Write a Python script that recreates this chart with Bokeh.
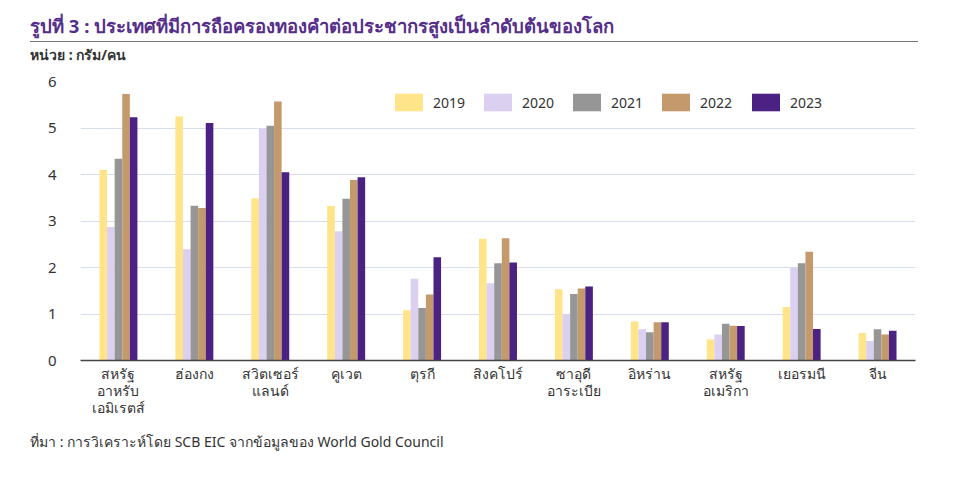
from bokeh.plotting import figure
from bokeh.layouts import column
from bokeh.models import (FactorRange, Legend, LegendItem, ColumnDataSource, FixedTicker, Div)
from bokeh.transform import dodge
from bokeh.embed import file_html
from bokeh.resources import INLINE

countries = ["สหรัฐ\nอาหรับ\nเอมิเรตส์", "ฮ่องกง", "สวิตเซอร์\nแลนด์", "คูเวต", "ตุรกี",
             "สิงคโปร์", "ซาอุดี\nอาระเบีย", "อิหร่าน", "สหรัฐ\nอเมริกา", "เยอรมนี", "จีน"]
years = ["2019", "2020", "2021", "2022", "2023"]
v2019 = [4.10, 5.25, 3.49, 3.32, 1.08, 2.62, 1.53, 0.84, 0.45, 1.15, 0.59]
v2020 = [2.87, 2.39, 4.99, 2.78, 1.76, 1.66, 1.00, 0.67, 0.56, 2.00, 0.42]
v2021 = [4.34, 3.33, 5.05, 3.48, 1.13, 2.09, 1.43, 0.61, 0.79, 2.09, 0.67]
v2022 = [5.73, 3.28, 5.57, 3.88, 1.42, 2.63, 1.55, 0.82, 0.75, 2.34, 0.56]
v2023 = [5.23, 5.11, 4.05, 3.94, 2.22, 2.11, 1.59, 0.82, 0.74, 0.68, 0.64]
y_ticks = [0, 1, 2, 3, 4, 5, 6]
colors = ["#FFE48A", "#DCD0F0", "#969696", "#C49A6C", "#4B2183"]

title_text = "รูปที่ 3 : ประเทศที่มีการถือครองทองคำต่อประชากรสูงเป็นลำดับต้นของโลก"
unit_text = "หน่วย : กรัม/คน"
source_text = "ที่มา : การวิเคราะห์โดย SCB EIC จากข้อมูลของ World Gold Council"

FONT = "Noto Sans"
W = 962

# ---- header (page y 0..71)
HH = 71
header_html = (
    f'<div style="position:relative;width:{W}px;height:{HH}px;">'
    f'<div style="position:absolute;left:30px;top:13px;white-space:nowrap;'
    f'font-family:\'{FONT}\';font-size:18.5px;font-weight:bold;color:#552D8A;line-height:26px;">'
    f'{title_text}</div>'
    f'<div style="position:absolute;left:30px;top:41px;width:888px;height:0;'
    f'border-top:1.5px solid #777777;"></div>'
    f'<div style="position:absolute;left:30px;top:45px;white-space:nowrap;'
    f'font-family:\'{FONT}\';font-size:14px;font-weight:bold;color:#333333;line-height:20px;">'
    f'{unit_text}</div></div>'
)
header = Div(text=header_html, width=W, height=HH, margin=0)

# ---- main chart (page y 71..440)
TOP, FRAME_H, BOTTOM = 10, 279, 80
MH = TOP + FRAME_H + BOTTOM
src = ColumnDataSource(dict(c=countries, v2019=v2019, v2020=v2020, v2021=v2021,
                            v2022=v2022, v2023=v2023))
fig = figure(width=W, height=MH, x_range=FactorRange(*countries, range_padding=0),
             y_range=(0, 6), output_backend="svg", toolbar_location=None,
             min_border_left=80, min_border_right=W - 915, min_border_top=TOP,
             min_border_bottom=BOTTOM)
fig.outline_line_color = None

cols = ["v2019", "v2020", "v2021", "v2022", "v2023"]
offsets = [-0.2, -0.1, 0.0, 0.1, 0.2]
renderers = []
for col, off, colr in zip(cols, offsets, colors):
    r = fig.vbar(x=dodge("c", off, range=fig.x_range), top=col, bottom=0, width=0.1,
                 source=src, fill_color=colr, line_color=None)
    renderers.append(r)

swatch_x = [396, 485, 574, 663, 753]
for yr, r, sx in zip(years, renderers, swatch_x):
    lg = Legend(items=[LegendItem(label=yr, renderers=[r])],
                orientation="horizontal", location=(sx - 85, 247),
                glyph_width=35, glyph_height=22, label_standoff=7, spacing=0,
                padding=0, margin=0, border_line_color=None, background_fill_alpha=0,
                label_text_font=FONT, label_text_font_size="14px",
                label_text_color="#333333", label_height=22)
    fig.add_layout(lg, "center")

fig.yaxis.ticker = FixedTicker(ticks=y_ticks)
fig.yaxis.axis_line_color = None
fig.yaxis.major_tick_line_color = None
fig.yaxis.minor_tick_line_color = None
fig.yaxis.major_label_text_font = FONT
fig.yaxis.major_label_text_font_size = "15px"
fig.yaxis.major_label_text_color = "#333333"
fig.yaxis.major_label_standoff = 18

fig.xaxis.axis_line_color = "#444444"
fig.xaxis.axis_line_width = 1.5
fig.xaxis.major_tick_line_color = None
fig.xaxis.minor_tick_line_color = None
fig.xaxis.major_label_text_font = FONT
fig.xaxis.major_label_text_font_size = "14px"
fig.xaxis.major_label_text_color = "#333333"
fig.xaxis.major_label_text_line_height = 0.92
fig.xaxis.major_label_standoff = -3

fig.xgrid.grid_line_color = None
fig.ygrid.grid_line_color = "#D6DEEE"
fig.ygrid.grid_line_width = 1

# ---- footer (page y 440..474)
FH = 474 - (HH + MH)
footer_html = (
    f'<div style="position:relative;width:{W}px;height:{FH}px;">'
    f'<div style="position:absolute;left:30px;top:{441 - (HH + MH) - 9}px;white-space:nowrap;'
    f'font-family:\'{FONT}\';font-size:14px;color:#333333;line-height:20px;">'
    f'{source_text}</div></div>'
)
footer = Div(text=footer_html, width=W, height=FH, margin=0)

p = column(header, fig, footer, spacing=0)
open("out.html", "w").write(file_html(p, INLINE))
